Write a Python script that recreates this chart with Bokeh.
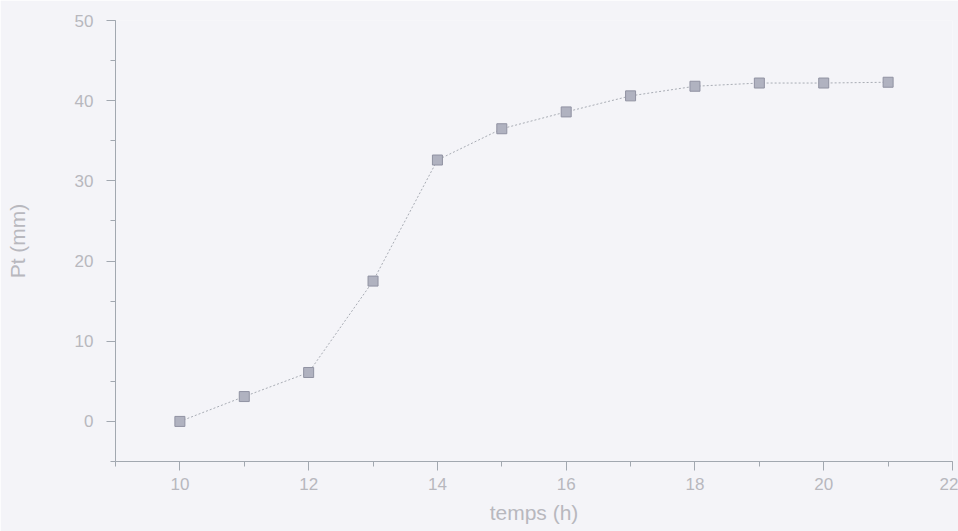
from bokeh.plotting import figure
from bokeh.models import Range1d, SingleIntervalTicker, ColumnDataSource
from bokeh.embed import file_html
from bokeh.resources import INLINE

# data
temps_h = [10, 11, 12, 13, 14, 15, 16, 17, 18, 19, 20, 21]
pt_mm = [0.0, 3.1, 6.1, 17.5, 32.6, 36.5, 38.6, 40.6, 41.8, 42.2, 42.2, 42.3]

x_label = "temps (h)"
y_label = "Pt (mm)"

paper = "#f4f4f8"
text_col = "#b8b8be"
axis_col = "#a2a8b0"

src = ColumnDataSource(dict(x=temps_h, y=pt_mm))

p = figure(width=958, height=531, output_backend="svg", toolbar_location=None,
           x_range=Range1d(9, 22), y_range=Range1d(-5, 50),
           min_border_left=115, min_border_right=6, min_border_top=20, min_border_bottom=70)
p.background_fill_color = paper
p.border_fill_color = paper
p.outline_line_color = None
p.xgrid.visible = False
p.ygrid.visible = False

p.line("x", "y", source=src, line_color="#a8acb4", line_width=1, line_dash="2 2")
p.scatter("x", "y", source=src, marker="square", size=10,
          fill_color="#b0b2c0", line_color="#9092a2", line_width=1)

for ax in (p.xaxis[0], p.yaxis[0]):
    ax.axis_line_color = axis_col
    ax.axis_line_width = 1
    ax.major_tick_line_color = axis_col
    ax.minor_tick_line_color = axis_col
    ax.major_tick_in = 0
    ax.minor_tick_in = 0
    ax.major_label_text_color = text_col
    ax.major_label_text_font = "Liberation Sans"
    ax.major_label_text_font_size = "17px"
    ax.axis_label_text_color = text_col
    ax.axis_label_text_font = "Liberation Sans"
    ax.axis_label_text_font_style = "normal"
    ax.axis_label_text_font_size = "21px"

p.xaxis.ticker = SingleIntervalTicker(interval=2, num_minor_ticks=2)
p.yaxis.ticker = SingleIntervalTicker(interval=10, num_minor_ticks=2)
p.xaxis.major_tick_out = 9
p.xaxis.minor_tick_out = 5
p.yaxis.major_tick_out = 9
p.yaxis.minor_tick_out = 5
p.xaxis.major_label_standoff = 7
p.yaxis.major_label_standoff = 13
p.xaxis.axis_label = x_label
p.yaxis.axis_label = y_label
p.xaxis.axis_label_standoff = 8
p.yaxis.axis_label_standoff = 43

open("out.html", "w").write(file_html(p, INLINE))
